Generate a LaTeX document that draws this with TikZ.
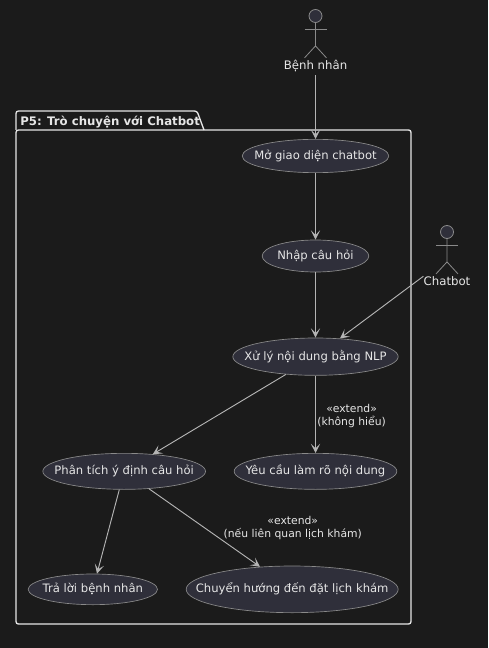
\documentclass[tikz,border=0pt]{standalone}
\usepackage{fontspec}
\setmainfont{DejaVu Sans}
\usetikzlibrary{arrows.meta,positioning,shapes.geometric,calc}
\definecolor{ucbg}{HTML}{1B1B1B}
\definecolor{ucfill}{HTML}{2F2F3A}
\definecolor{ucline}{HTML}{8A8A8A}
\definecolor{uctext}{HTML}{E6E6E6}
\definecolor{ucarrow}{HTML}{B4B4B4}
\newcommand{\uclabel}[1]{\makebox[0pt]{#1}}

\begin{document}
\begin{tikzpicture}[
  x=0.75pt, y=-0.75pt,
  usecase/.style={ellipse, draw=ucline, line width=0.5pt, fill=ucfill, inner sep=0pt,
                  text height=6.6pt, text depth=1.6pt,
                  font=\fontsize{8.7pt}{10pt}\selectfont, text=uctext},
  head/.style={circle, draw=ucline, line width=0.6pt, fill=ucfill, inner sep=0pt, minimum size=9.75pt},
  limb/.style={draw=ucline, line width=0.6pt},
  actorname/.style={font=\fontsize{8.8pt}{10pt}\selectfont, text=uctext, inner sep=0pt},
  arrow/.style={-{Stealth[length=7pt, width=7pt, inset=3.5pt]}, ucarrow, line width=0.7pt},
  lbl/.style={font=\fontsize{8.1pt}{9.8pt}\selectfont, text=uctext, align=center, inner sep=0pt},
  pack/.style={draw=uctext, line width=1pt, rounded corners=1.8pt},
]

%% ---- Background ----
\fill[ucbg] (0,0) rectangle (488,648);
\useasboundingbox (0,0) rectangle (488,648);

%% ---- Package frame ----
\draw[pack] (16,130) -- (16,624) -- (411,624) -- (411,130) -- cycle;
\draw[pack] (16,130) -- (16,111) -- (197,111) -- (204,130);
\node[font=\fontsize{8.8pt}{10pt}\selectfont\bfseries, text=uctext, inner sep=0pt, anchor=west] (title) at (20,122) {P5: Trò chuyện với Chatbot};

%% ---- Use cases, main column ----
\node[usecase, minimum width=110pt, minimum height=25pt] (mo) at (315.5,156) {\uclabel{Mở giao diện chatbot}};
\node[usecase, minimum width=80pt, minimum height=24pt, below=50pt of mo] (nhap) {\uclabel{Nhập câu hỏi}};
\node[usecase, minimum width=124pt, minimum height=28pt, below=49pt of nhap] (xuly) {\uclabel{Xử lý nội dung bằng NLP}};
\node[usecase, minimum width=122pt, minimum height=27pt, below=58pt of xuly] (yeucau) {\uclabel{Yêu cầu làm rõ nội dung}};

%% ---- Use cases, left side ----
\node[usecase, minimum width=122pt, minimum height=27pt, left=21pt of yeucau] (phantich) {\uclabel{Phân tích ý định câu hỏi}};
\node[usecase, minimum width=97pt, minimum height=23pt, below=63pt of phantich, xshift=-23.5pt] (traloi) {\uclabel{Trả lời bệnh nhân}};
\node[usecase, minimum width=159pt, minimum height=35pt, right=21pt of traloi] (chuyen) {\uclabel{Chuyển hướng đến đặt lịch khám}};

%% ---- Actors ----
\node[head] (bnhead) at (315.5,16) {};
\draw[limb] (bnhead.south) -- ++(0,23) -- ++(-11,12) ++(11,-12) -- ++(11,12);
\draw[limb] ($(bnhead.south)+(-11,6.5)$) -- ++(22,0);
\node[actorname, below=28pt of bnhead] (bn) {Bệnh nhân};

\node[head] (cbhead) at (447,232) {};
\draw[limb] (cbhead.south) -- ++(0,23) -- ++(-11,12) ++(11,-12) -- ++(11,12);
\draw[limb] ($(cbhead.south)+(-11,6.5)$) -- ++(22,0);
\node[actorname, below=28pt of cbhead] (cb) {Chatbot};

%% ---- Connectors ----
\draw[arrow] (bn.south) ++(0,3) -- (mo);
\draw[arrow] (mo) -- (nhap);
\draw[arrow] (nhap) -- (xuly);
\draw[arrow] (cb.north west) -- (xuly);
\draw[arrow] (xuly) -- (phantich);
\draw[arrow] (xuly) -- node[lbl, right, xshift=1pt, yshift=-3.8pt, pos=0.46] (lblhieu) {«extend»\\(không hiểu)} (yeucau);
\draw[arrow] (phantich) -- (traloi);
\draw[arrow] (phantich) -- node[lbl, right, xshift=14pt, pos=0.5] (lbllich) {«extend»\\(nếu liên quan lịch khám)} (chuyen);

\end{tikzpicture}
\end{document}
